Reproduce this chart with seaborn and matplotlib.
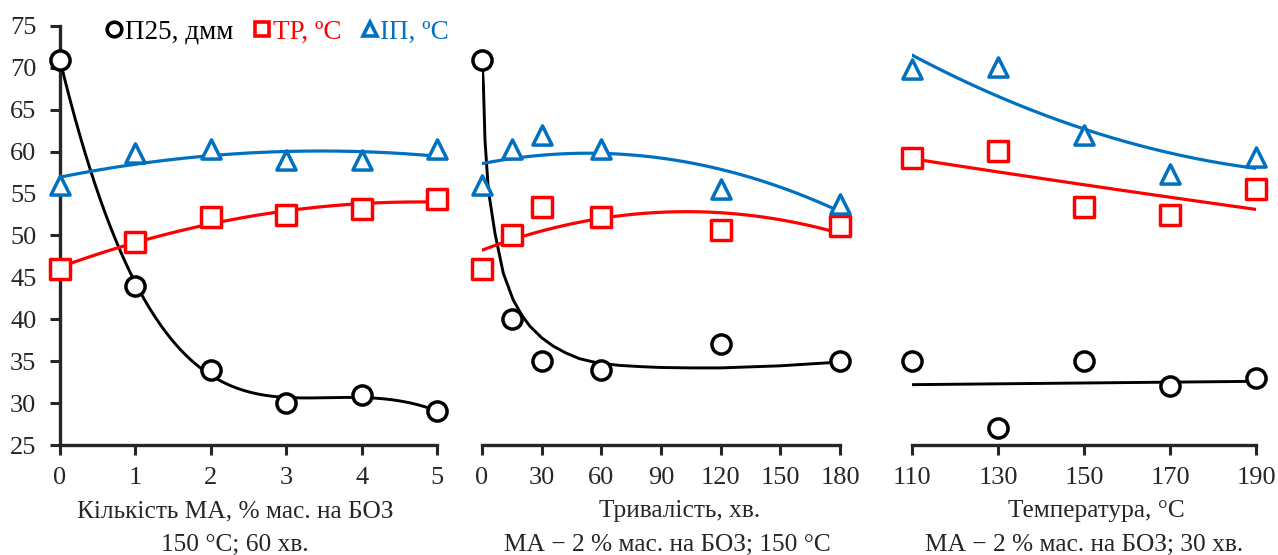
import numpy as np
import pandas as pd
import seaborn as sns
import matplotlib.pyplot as plt
from matplotlib.lines import Line2D

# panel 1: amount of MA, % wt on BOZ
ma_amount = [0, 1, 2, 3, 4, 5]
ma_pen = [71, 44, 34, 30, 31, 29]
ma_sp = [46, 49.2, 52.2, 52.5, 53.2, 54.4]
ma_fp = [56, 59.9, 60.3, 59, 59, 60.3]

# panel 2: duration, min
dur_min = [0, 15, 30, 60, 120, 180]
dur_pen = [71, 40, 35, 34, 37, 35]
dur_sp = [46, 50, 53.4, 52.2, 50.6, 51.1]
dur_fp = [56, 60.3, 62, 60.3, 55.5, 53.8]
# trend curve for penetration vs duration
dur_pen_curve_x = [0, 0.7, 1.5, 3.2, 6.5, 10.7, 15.7, 20, 24, 30, 35.8, 42, 49, 58, 69,
                   80, 90, 105, 120, 150, 180]
dur_pen_curve_y = [71, 68, 61.4, 55.4, 50.3, 45.5, 42.3, 40.5, 39.2, 37.8, 36.8, 36.0, 35.3,
                   34.8, 34.5, 34.35, 34.25, 34.2, 34.2, 34.45, 34.9]

# panel 3: temperature, C
temp_c = [110, 130, 150, 170, 190]
temp_pen = [35, 27, 35, 32, 33]
temp_sp = [59.3, 60.1, 53.4, 52.4, 55.5]
temp_fp = [69.9, 70.1, 62, 57.3, 59.4]

series_names = ['П25, дмм', 'ТР, ºС', 'ІП, ºС']
colors = ['black', '#FF0000', '#0070C0']
markers = ['o', 's', '^']

x_labels = ['Кількість МА, % мас. на БОЗ', 'Тривалість, хв.', 'Температура, °С']
conditions = ['150 °С; 60 хв.', 'МА − 2 % мас. на БОЗ; 150 °С', 'МА − 2 % мас. на БОЗ; 30 хв.']
# horizontal centres of the two caption lines, in axes fraction
label_pos = [(0.464, 0.464), (0.553, 0.517), (0.535, 0.5)]


def poly_trend(x, y, deg):
    x = np.asarray(x, float)
    xs = np.linspace(x.min(), x.max(), 300)
    return xs, np.polyval(np.polyfit(x, y, deg), xs)


def exp_trend(x, y):
    x = np.asarray(x, float)
    xs = np.linspace(x.min(), x.max(), 300)
    b, a = np.polyfit(x, np.log(y), 1)
    return xs, np.exp(a + b * xs)


sns.set_style('ticks')
plt.rcParams['font.family'] = ['Liberation Serif', 'DejaVu Serif']

fig = plt.figure(figsize=(12.78, 5.55), dpi=100)
boxes = [(60, 377), (482, 358), (912, 344)]
axes = [fig.add_axes([l / 1278, 110 / 555, w / 1278, 419 / 555]) for l, w in boxes]

panels = [
    (ma_amount, [ma_pen, ma_sp, ma_fp],
     [poly_trend(ma_amount, ma_pen, 4), poly_trend(ma_amount, ma_sp, 2), poly_trend(ma_amount, ma_fp, 2)],
     (0, 5), np.arange(0, 6, 1)),
    (dur_min, [dur_pen, dur_sp, dur_fp],
     [(dur_pen_curve_x, dur_pen_curve_y), poly_trend(dur_min, dur_sp, 2), poly_trend(dur_min, dur_fp, 2)],
     (0, 180), np.arange(0, 181, 30)),
    (temp_c, [temp_pen, temp_sp, temp_fp],
     [poly_trend(temp_c, temp_pen, 1), exp_trend(temp_c, temp_sp), poly_trend(temp_c, temp_fp, 2)],
     (110, 190), np.arange(110, 191, 20)),
]

for i, (ax, (xv, ys, trends, xlim, xticks)) in enumerate(zip(axes, panels)):
    for y, (tx, ty), col, mk in zip(ys, trends, colors, markers):
        sns.lineplot(x=tx, y=ty, ax=ax, color=col, linewidth=2.3 if col != 'black' else 2.1,
                     sort=False, estimator=None, legend=False)
        sns.scatterplot(x=xv, y=y, ax=ax, marker=mk, s=190, facecolor='white',
                        edgecolor=col, linewidth=2.5, clip_on=False, zorder=5, legend=False)
    ax.set_xlim(*xlim)
    ax.set_ylim(25, 75)
    ax.set_xticks(xticks)
    ax.set_yticks(np.arange(25, 76, 5))
    ax.tick_params(axis='both', direction='out', length=7, width=2.2, labelsize=19)
    ax.tick_params(axis='x', pad=9)
    ax.tick_params(axis='y', pad=10)
    for s in ['top', 'right']:
        ax.spines[s].set_visible(False)
    ax.spines['bottom'].set_linewidth(2.4)
    ax.spines['left'].set_linewidth(2.4)
    if i > 0:
        ax.spines['left'].set_visible(False)
        ax.tick_params(axis='y', left=False, labelleft=False)
    ax.set_xlabel('')
    ax.set_ylabel('')
    ax.text(label_pos[i][0], -0.172, x_labels[i], transform=ax.transAxes, ha='center',
            va='baseline', fontsize=18.3)
    ax.text(label_pos[i][1], -0.252, conditions[i], transform=ax.transAxes, ha='center',
            va='baseline', fontsize=18.3)
    ax.patch.set_alpha(0)

handles = [Line2D([], [], linestyle='none', marker=mk, markersize=10.5, markerfacecolor='white',
                  markeredgecolor=col, markeredgewidth=2.6) for col, mk in zip(colors, markers)]
leg = fig.legend(handles, series_names, loc='center left', bbox_to_anchor=(106 / 1278, 1 - 32 / 555),
                 ncol=3, frameon=False, fontsize=19.5, handlelength=0.6, handletextpad=0.1,
                 columnspacing=0.75, borderpad=0, borderaxespad=0)
for txt, col in zip(leg.get_texts(), colors):
    txt.set_color(col)

fig.savefig('out.png', dpi=100)
